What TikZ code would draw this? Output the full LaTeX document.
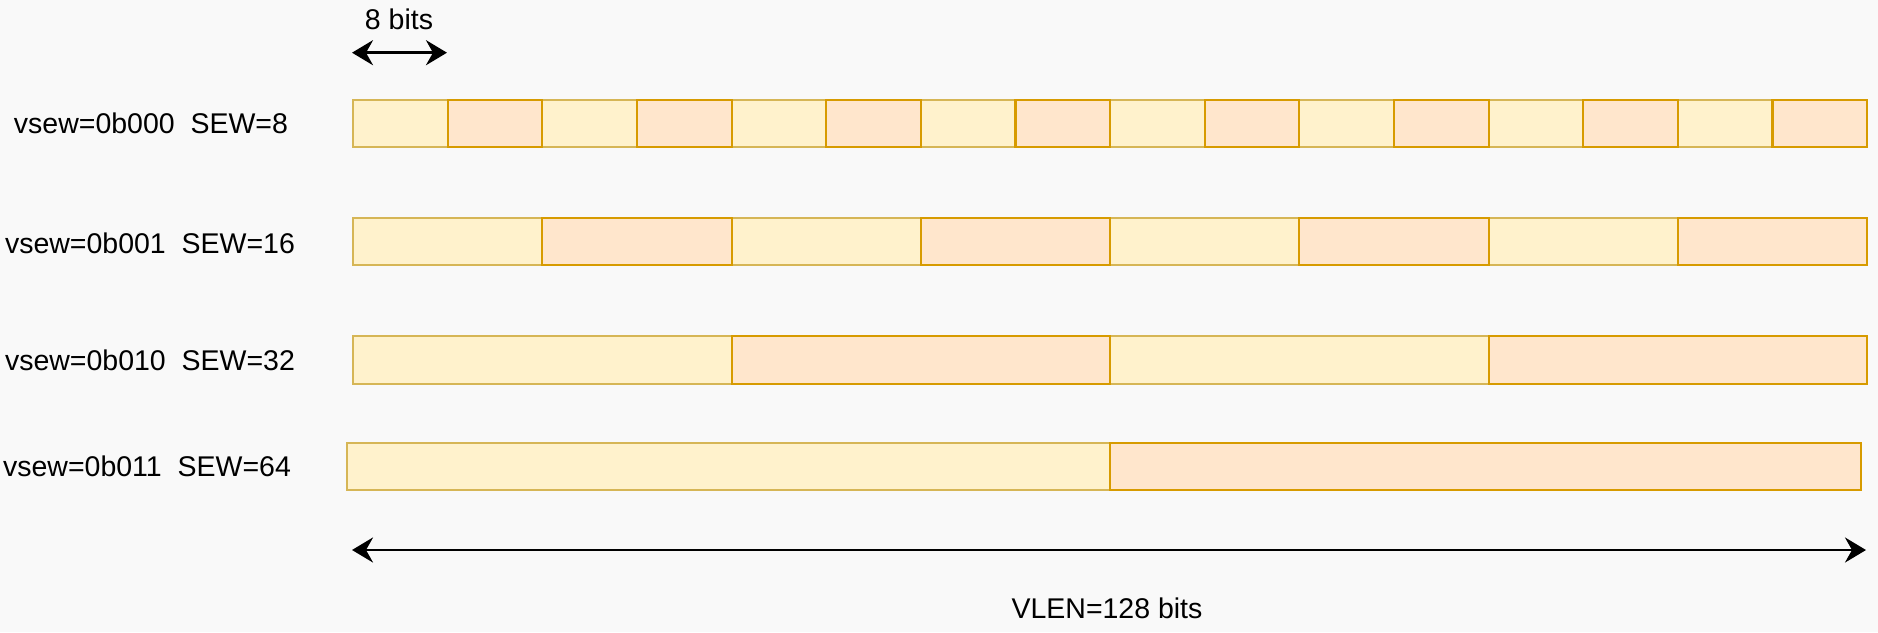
\documentclass[tikz,border=0pt]{standalone}
\usepackage{fontspec}
\setmainfont{Liberation Sans}
\usetikzlibrary{arrows.meta}
\definecolor{bg}{HTML}{F9F9F9}
\definecolor{yfill}{HTML}{FFF2CC}
\definecolor{ydraw}{HTML}{D6B656}
\definecolor{ofill}{HTML}{FFE6CC}
\definecolor{odraw}{HTML}{D79B00}
\begin{document}
\begin{tikzpicture}[x=1pt,y=-1pt,
  cell/.style={draw, line width=2.2pt, minimum height=47.5pt, inner sep=0pt, anchor=west},
  ycell/.style={cell, fill=yfill, draw=ydraw},
  ocell/.style={cell, fill=ofill, draw=odraw},
  lbl/.style={font=\fontsize{28.5}{34}\selectfont, inner sep=0pt},
  dimline/.style={line width=2.8pt, {Stealth[length=21pt,width=25pt,inset=7pt]}-{Stealth[length=21pt,width=25pt,inset=7pt]}}]
\fill[bg] (0,0) rectangle (1878,632);
\useasboundingbox (0,0) rectangle (1878,632);
\foreach \r/\n/\y/\x in {1/16/123.4/352, 2/8/241.4/352, 3/4/360/352}{
  \pgfmathsetmacro\w{1514/\n}
  \foreach \i in {1,...,\n}{
    \pgfmathtruncatemacro\odd{mod(\i,2)}
    \ifnum\odd=1
      \node[ycell, minimum width=\w pt] (c\r-\i) at ({\x+(\i-1)*\w}, \y) {};
    \fi
  }
  \foreach \i in {1,...,\n}{
    \pgfmathtruncatemacro\odd{mod(\i,2)}
    \ifnum\odd=0
      \node[ocell, minimum width=\w pt] (c\r-\i) at ({\x+(\i-1)*\w}, \y) {};
    \fi
  }
}
\node[ycell, minimum width=763pt] (c4-1) at (346,466.5) {};
\node[ocell, minimum width=751pt] (c4-2) at (1109,466.5) {};
\node[lbl] (l1) at (151,123) {vsew=0b000\ \ SEW=8};
\node[lbl] (l2) at (150,243) {vsew=0b001\ \ SEW=16};
\node[lbl] (l3) at (150,360.5) {vsew=0b010\ \ SEW=32};
\node[lbl] (l4) at (147,466) {vsew=0b011\ \ SEW=64};
\coordinate (b8l) at (352,52.7);
\coordinate (b8r) at (447,52.7);
\draw[dimline] (b8l) -- (b8r);
\node[lbl] (t8) at (399,19) {8 bits};
\coordinate (vl) at (352,550);
\coordinate (vr) at (1866,550);
\draw[dimline] (vl) -- (vr);
\node[lbl] (tv) at (1107,608) {VLEN=128 bits};
\end{tikzpicture}
\end{document}
